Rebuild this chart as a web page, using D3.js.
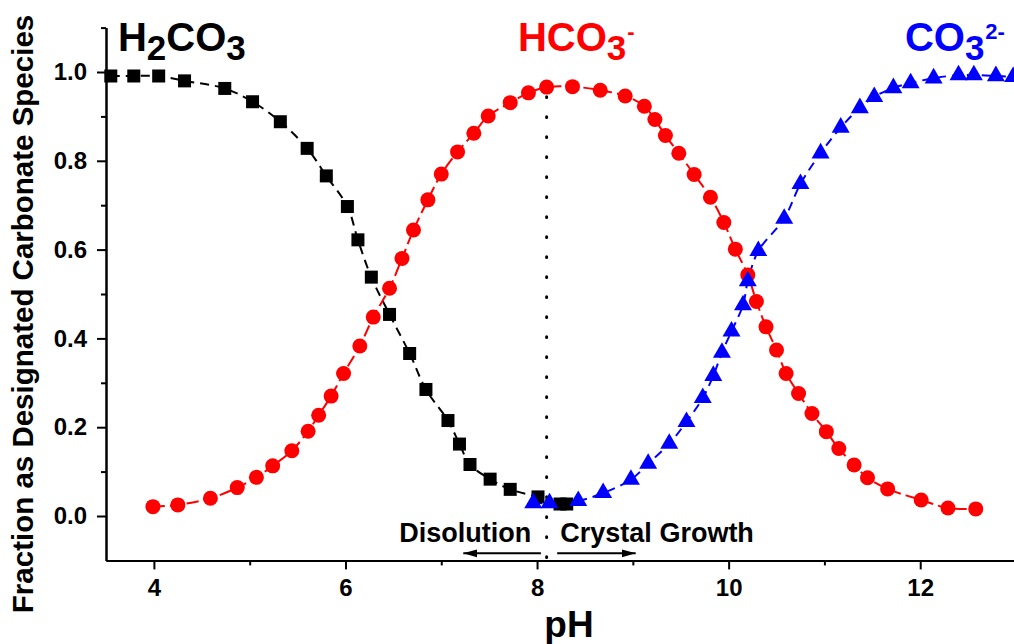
<!DOCTYPE html>
<html>
<head>
<meta charset="utf-8">
<script src="https://cdn.jsdelivr.net/npm/d3@7"></script>
<style>
 body{margin:0;background:#fff;}
 text{font-family:"Liberation Sans",Arial,sans-serif;font-weight:bold;}
</style>
</head>
<body>
<div id="chart"></div>
<script>
//Values
var h2co3PH   = [3.55,3.79,4.05,4.32,4.74,5.03,5.32,5.60,5.80,6.02,6.13,6.27,6.46,6.67,6.84,7.07,7.19,7.30,7.51,7.72,8.01,8.24,8.31];
var h2co3Frac = [0.991,0.991,0.991,0.980,0.963,0.933,0.888,0.828,0.766,0.697,0.622,0.538,0.454,0.366,0.285,0.215,0.162,0.116,0.083,0.060,0.043,0.027,0.027];

var hco3PH   = [3.99,4.25,4.59,4.87,5.07,5.24,5.44,5.61,5.72,5.85,5.98,6.15,6.29,6.46,6.59,6.71,6.86,7.00,7.17,7.34,
                7.49,7.72,7.91,8.10,8.37,8.66,8.92,9.12,9.23,9.34,9.48,9.64,9.81,9.95,10.07,10.20,10.29,10.39,10.50,10.60,
                10.73,10.87,11.02,11.15,11.31,11.45,11.66,12.01,12.29,12.58];
var hco3Frac = [0.021,0.025,0.040,0.064,0.087,0.113,0.147,0.191,0.227,0.270,0.321,0.383,0.448,0.513,0.580,0.644,0.712,0.770,0.820,0.862,
                0.901,0.931,0.953,0.966,0.967,0.959,0.946,0.923,0.893,0.857,0.817,0.769,0.718,0.661,0.601,0.543,0.483,0.426,0.374,0.321,
                0.276,0.231,0.190,0.152,0.115,0.086,0.061,0.036,0.018,0.016];

var co3PH   = [7.96,8.13,8.43,8.69,8.98,9.16,9.38,9.56,9.73,9.84,9.93,10.03,10.15,10.20,10.31,10.58,10.75,10.96,11.17,11.37,
               11.52,11.72,11.90,12.14,12.40,12.56,12.79,12.97];
var co3Frac = [0.029,0.029,0.034,0.052,0.082,0.118,0.163,0.212,0.266,0.316,0.368,0.416,0.475,0.529,0.597,0.670,0.748,0.817,0.875,0.919,
               0.944,0.964,0.975,0.986,0.993,0.993,0.991,0.989];

var xMajor = [4,6,8,10,12];
var xMinor = [5,7,9,11];
var yMajor = [0,0.2,0.4,0.6,0.8,1.0];
var yMinor = [0.1,0.3,0.5,0.7,0.9,1.1];

var splitPH = 8.1;		//dotted line between the two regions

var W = 1014, H = 644;
var svg = d3.select("#chart").append("svg")
 .attr("width", W).attr("height", H);

var x = d3.scaleLinear().domain([3.5, 13]).range([106, 1016]);
var y = d3.scaleLinear().domain([-0.1, 1.1]).range([560.4, 27.6]);

var defs = svg.append("defs");
defs.append("marker")
 .attr("id","arrowHead")
 .attr("viewBox","0 -5 14 10")
 .attr("refX",14).attr("refY",0)
 .attr("markerWidth",14).attr("markerHeight",10)
 .attr("markerUnits","userSpaceOnUse")
 .attr("orient","auto")
 .append("path")
 .attr("d","M0,-4L14,0L0,4Z")
 .attr("fill","#000");

//Axes
function styleAxis(g){
 g.attr("font-size",24).attr("font-family","Liberation Sans, Arial, sans-serif");
 g.selectAll("path,line").attr("stroke","#000").attr("stroke-width",2);
 g.selectAll("text").attr("fill","#000");
}

svg.append("g")
 .attr("transform","translate(0," + y(-0.1) + ")")
 .call(d3.axisBottom(x).tickValues(xMinor).tickFormat("").tickSize(5).tickSizeOuter(0))
 .call(styleAxis);
svg.append("g")
 .attr("transform","translate(0," + y(-0.1) + ")")
 .call(d3.axisBottom(x).tickValues(xMajor).tickFormat(d3.format("d")).tickSize(9).tickPadding(10).tickSizeOuter(0))
 .call(styleAxis);

svg.append("g")
 .attr("transform","translate(" + x(3.5) + ",0)")
 .call(d3.axisLeft(y).tickValues(yMinor).tickFormat("").tickSize(5).tickSizeOuter(0))
 .call(styleAxis);
svg.append("g")
 .attr("transform","translate(" + x(3.5) + ",0)")
 .call(d3.axisLeft(y).tickValues(yMajor).tickFormat(d3.format(".1f")).tickSize(9).tickPadding(10).tickSizeOuter(0))
 .call(styleAxis);

//Axis titles
svg.append("text")
 .attr("x",569).attr("y",637)
 .attr("text-anchor","middle")
 .attr("font-size",37)
 .text("pH");
svg.append("text")
 .attr("transform","translate(33,314) rotate(-90)")
 .attr("text-anchor","middle")
 .attr("font-size",29.5)
 .text("Fraction as Designated Carbonate Species");

//Dotted split line
svg.append("line")
 .attr("x1",x(splitPH)).attr("x2",x(splitPH))
 .attr("y1",y(0.944)).attr("y2",y(-0.1))
 .attr("stroke","#000").attr("stroke-width",3)
 .attr("stroke-linecap","round")
 .attr("stroke-dasharray","0.6,19.4");

//Arrows and their labels
svg.append("line")
 .attr("x1",x(8.04)).attr("x2",x(7.23))
 .attr("y1",y(-0.084)).attr("y2",y(-0.084))
 .attr("stroke","#000").attr("stroke-width",2)
 .attr("marker-end","url(#arrowHead)");
svg.append("line")
 .attr("x1",x(8.21)).attr("x2",x(9.03))
 .attr("y1",y(-0.084)).attr("y2",y(-0.084))
 .attr("stroke","#000").attr("stroke-width",2)
 .attr("marker-end","url(#arrowHead)");
svg.append("text")
 .attr("x",x(6.562)).attr("y",y(-0.058))
 .attr("font-size",27)
 .text("Disolution");
svg.append("text")
 .attr("x",x(8.243)).attr("y",y(-0.058))
 .attr("font-size",27)
 .text("Crystal Growth");

//Series lines
var valueline = d3.line()
 .x(function(d){ return x(d[0]); })
 .y(function(d){ return y(d[1]); })
 .curve(d3.curveCatmullRom);

var h2co3 = d3.zip(h2co3PH, h2co3Frac);
var hco3  = d3.zip(hco3PH, hco3Frac);
var co3   = d3.zip(co3PH, co3Frac);

[[h2co3,"#000","9,6"],[hco3,"#ff0000","12,5"],[co3,"#0000ff","9,6"]].forEach(function(s){
 svg.append("path")
  .datum(s[0])
  .attr("d",valueline)
  .attr("fill","none")
  .attr("stroke",s[1])
  .attr("stroke-width",2)
  .attr("stroke-dasharray",s[2]);
});

//Markers
svg.append("g").selectAll("rect")
 .data(h2co3)
 .enter().append("rect")
 .attr("x",function(d){ return x(d[0]) - 6.5; })
 .attr("y",function(d){ return y(d[1]) - 6.5; })
 .attr("width",13).attr("height",13)
 .attr("fill","#000");

svg.append("g").selectAll("circle")
 .data(hco3)
 .enter().append("circle")
 .attr("cx",function(d){ return x(d[0]); })
 .attr("cy",function(d){ return y(d[1]); })
 .attr("r",7.5)
 .attr("fill","#ff0000");

svg.append("g").selectAll("path")
 .data(co3)
 .enter().append("path")
 .attr("d",d3.symbol(d3.symbolTriangle,140))
 .attr("transform",function(d){ return "translate(" + x(d[0]) + "," + y(d[1]) + ")"; })
 .attr("fill","#0000ff");

//Species labels
var lblY = y(1.047);
var t1 = svg.append("text").attr("x",x(3.625)).attr("y",lblY).attr("font-size",40).attr("fill","#000");
t1.append("tspan").text("H");
t1.append("tspan").attr("font-size",35).attr("dy",9).text("2");
t1.append("tspan").attr("dy",-9).text("CO");
t1.append("tspan").attr("font-size",35).attr("dy",9).text("3");

var t2 = svg.append("text").attr("x",x(7.80)).attr("y",lblY).attr("font-size",40).attr("fill","#ff0000");
t2.append("tspan").text("HCO");
t2.append("tspan").attr("font-size",35).attr("dy",9).text("3");
t2.append("tspan").attr("font-size",22).attr("dy",-21).attr("dx",1).text("-");

var t3 = svg.append("text").attr("x",x(11.84)).attr("y",lblY).attr("font-size",40).attr("fill","#0000ff");
t3.append("tspan").text("CO");
t3.append("tspan").attr("font-size",35).attr("dy",9).text("3");
t3.append("tspan").attr("font-size",22).attr("dy",-21).attr("dx",1).text("2-");
</script>
</body>
</html>
